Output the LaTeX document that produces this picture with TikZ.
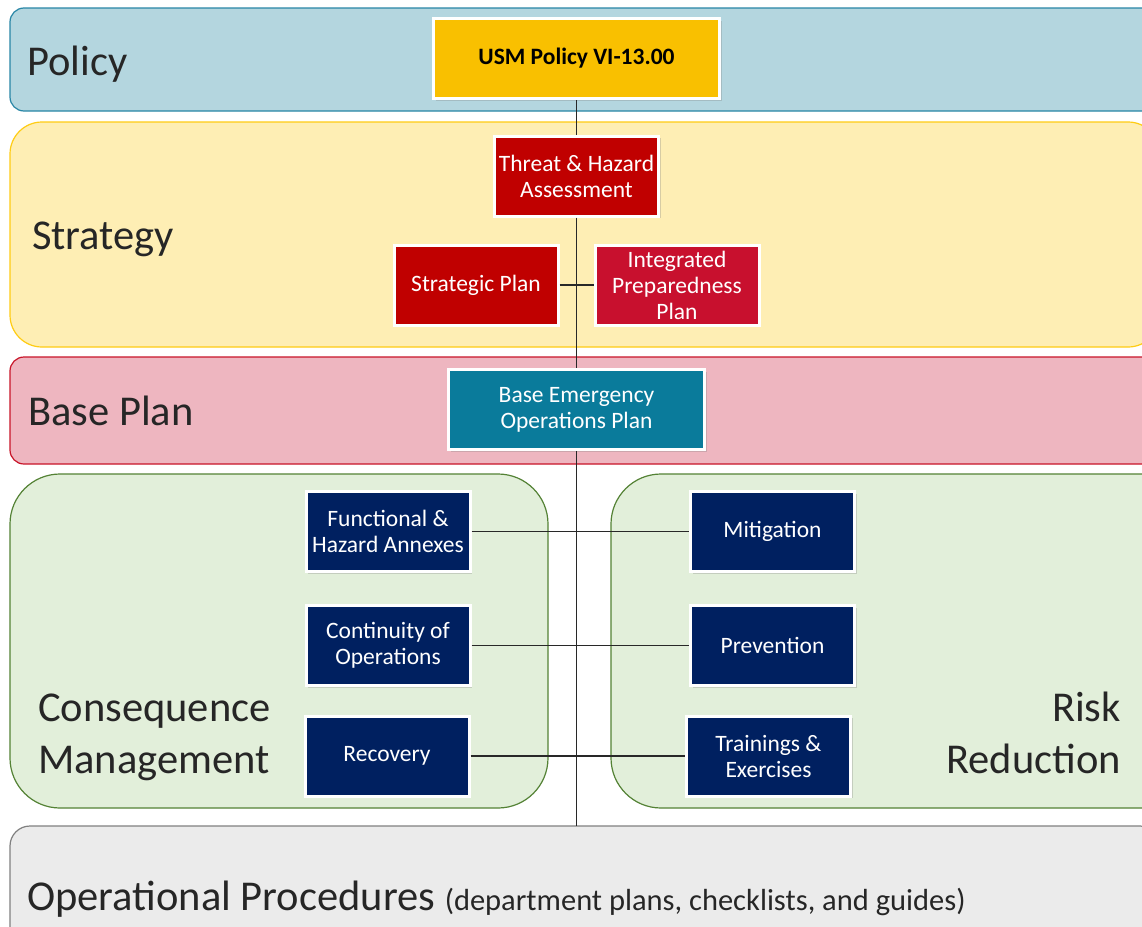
\documentclass[tikz,border=0pt]{standalone}
\usepackage{fontspec}
\setmainfont{Carlito}
\usepackage{tikz}
\usetikzlibrary{positioning}
\usetikzlibrary{shadows}

\definecolor{policyfill}{RGB}{180,214,223}
\definecolor{policyline}{RGB}{40,134,166}
\definecolor{stratfill}{RGB}{254,238,180}
\definecolor{stratline}{RGB}{255,204,20}
\definecolor{basefill}{RGB}{238,182,192}
\definecolor{baseline}{RGB}{200,20,40}
\definecolor{greenfill}{RGB}{226,239,218}
\definecolor{greenline}{RGB}{84,130,53}
\definecolor{opsfill}{RGB}{235,235,235}
\definecolor{opsline}{RGB}{128,128,128}
\definecolor{usmgold}{RGB}{249,192,0}
\definecolor{darkred}{RGB}{192,0,0}
\definecolor{crimson}{RGB}{200,16,46}
\definecolor{teal}{RGB}{10,123,155}
\definecolor{navy}{RGB}{0,32,96}
\definecolor{labelgray}{RGB}{38,38,38}
\definecolor{linegray}{RGB}{40,40,40}

\begin{document}
\begin{tikzpicture}[x=1pt,y=-1pt]
        \tikzstyle{band}=[line width=1.2pt]
        \tikzstyle{lbl}=[anchor=base west,inner sep=0pt,text=labelgray,
            font=\fontsize{42.5}{52}\selectfont]
        \tikzstyle{box}=[rectangle,draw=white,line width=3pt,text=white,
            align=center,minimum width=164pt,minimum height=80pt,inner sep=2pt,
            font=\fontsize{23.5}{26}\selectfont,
            drop shadow={shadow xshift=2pt,shadow yshift=-2pt,opacity=.3}]
        \tikzstyle{link}=[draw=linegray,line width=1.2pt]

        \clip (0,0) rectangle (1142,926);
        \fill[white] (0,0) rectangle (1142,926);

        % bands
        \draw[band,draw=policyline,fill=policyfill,rounded corners=14pt]
            (10,8) rectangle (1160,111);
        \draw[band,draw=stratline,fill=stratfill,rounded corners=32pt]
            (10,122) rectangle (1160,347);
        \draw[band,draw=baseline,fill=basefill,rounded corners=14pt]
            (10,357) rectangle (1160,464);
        \draw[band,draw=greenline,fill=greenfill,rounded corners=50pt]
            (10,474) rectangle (548,808);
        \draw[band,draw=greenline,fill=greenfill,rounded corners=50pt]
            (611,474) rectangle (1200,808);
        \draw[band,draw=opsline,fill=opsfill,rounded corners=20pt]
            (10,826) rectangle (1160,960);

        \node[lbl] (policy) at (27,75) {Policy};
        \node[lbl] (strategy) at (32,249) {Strategy};
        \node[lbl] (baseplan) at (28,425) {Base Plan};
        \node[lbl,align=left] (cm) at (38,773)
            {Consequence\\Management};
        \node[lbl,anchor=base east,align=right] (rr) at (1121,773)
            {Risk\\Reduction};
        \node[lbl] (ops) at (27,910) {Operational Procedures
            {\fontsize{30.5}{36}\selectfont (department plans, checklists, and guides)}};

        % boxes
        \node[box,fill=usmgold,text=black,minimum width=286pt,
            font=\fontsize{23.5}{26}\selectfont\bfseries] (usm) at (576.5,58.5)
            {USM Policy VI-13.00};
        \node[box,fill=darkred] (tha) at (576.5,176)
            {Threat \& Hazard\\Assessment};
        \node[box,fill=darkred] (sp) at (476,285) {Strategic Plan};
        \node[box,fill=crimson] (ipp) at (677,285)
            {Integrated\\Preparedness\\Plan};
        \node[box,fill=teal,minimum width=256pt] (beop) at (576.5,409.5)
            {Base Emergency\\Operations Plan};

        \node[box,fill=navy] (fha) at (388,531.5) {Functional \&\\Hazard Annexes};
        \node[box,fill=navy,below=31pt of fha] (coop) {Continuity of\\Operations};
        \node[box,fill=navy] (rec) at (387,756) {Recovery};
        \node[box,fill=navy] (mit) at (772.5,531.5) {Mitigation};
        \node[box,fill=navy,below=31pt of mit] (prev) {Prevention};
        \node[box,fill=navy] (te) at (768.5,756) {Trainings \&\\Exercises};

        % connectors
        \coordinate (opstop) at (576.5,826);
        \draw[link] (usm.south) -- (tha.north);
        \draw[link] (tha.south) -- (beop.north);
        \draw[link] (beop.south) -- (opstop);
        \draw[link] (sp.east) -- (ipp.west);
        \draw[link] (fha.east) -- (mit.west);
        \draw[link] (coop.east) -- (prev.west);
        \draw[link] (rec.east) -- (te.west);
\end{tikzpicture}
\end{document}
